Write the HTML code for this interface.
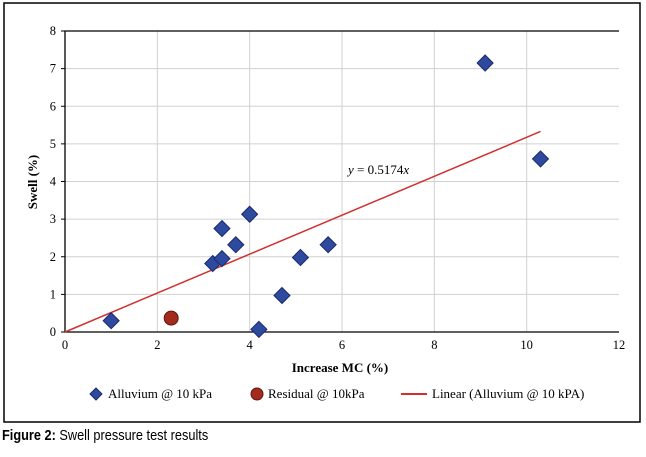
<!DOCTYPE html>
<html><head><meta charset="utf-8"><style>
body{margin:0;background:#fff;width:646px;height:457px;overflow:hidden;font-family:"Liberation Serif",serif}
.cap{position:absolute;left:2px;top:427px;font-family:"Liberation Sans",sans-serif;font-size:15px;transform:scaleX(0.85);transform-origin:left}
</style></head><body>
<svg width="646" height="457" style="position:absolute;left:0;top:0">
<rect x="4" y="3" width="636" height="419" fill="none" stroke="#000" stroke-width="1.5"/>
<g id="grid"></g><g id="axes"></g><g id="marks"></g>
<text x="340" y="372" font-size="13" font-weight="bold" text-anchor="middle">Increase MC (%)</text>
<text transform="translate(37,182) rotate(-90)" font-size="13" font-weight="bold" text-anchor="middle">Swell (%)</text>
<text x="348" y="174" font-size="13"><tspan font-style="italic">y</tspan> = 0.5174<tspan font-style="italic">x</tspan></text>
<g font-size="13">
<path d="M96 388 L102 394 L96 400 L90 394Z" fill="#2e4a9e" stroke="#1a2a6e"/>
<text x="108" y="398">Alluvium @ 10 kPa</text>
<circle cx="257" cy="394" r="6" fill="#a52a1e" stroke="#5a1a10"/>
<text x="268" y="398">Residual @ 10kPa</text>
<line x1="401" y1="394" x2="427" y2="394" stroke="#d03030" stroke-width="2"/>
<text x="432" y="398">Linear (Alluvium @ 10 kPA)</text>
</g>
</svg>
<div class="cap"><b>Figure 2:</b> Swell pressure test results</div>
<script>
const alluviumX=[1,3.2,3.4,3.4,3.7,4,4.2,4.7,5.1,5.7,9.1,10.3];
const alluviumY=[0.3,1.82,1.95,2.75,2.32,3.13,0.07,0.97,1.98,2.32,7.15,4.6];
const residualX=[2.3];
const residualY=[0.37];
const slope=0.5174;
const trendRange=[0,10.3];
const xTicks=[0,2,4,6,8,10,12];
const yTicks=[0,1,2,3,4,5,6,7,8];
const L=65,R=619,T=31,B=332;
const sx=v=>L+(R-L)*v/12, sy=v=>B-(B-T)*v/8;
const NS='http://www.w3.org/2000/svg';
function mk(p,tag,a){const e=document.createElementNS(NS,tag);for(const k in a)e.setAttribute(k,a[k]);document.getElementById(p).appendChild(e);return e;}
xTicks.forEach(t=>{if(t>0&&t<12){const g=mk('grid','line',{x1:sx(t),x2:sx(t),y1:T,y2:B,stroke:'#d0d0d0'});}
const tx=mk('axes','text',{x:sx(t),y:B+17,'font-size':12.5,'text-anchor':'middle'});tx.textContent=t;});
yTicks.forEach(t=>{if(t>0&&t<8){const g=mk('grid','line',{x1:L,x2:R,y1:sy(t),y2:sy(t),stroke:'#d0d0d0'});}
mk('axes','line',{x1:L-4,x2:L,y1:sy(t),y2:sy(t),stroke:'#000'});
const tx=mk('axes','text',{x:L-9,y:sy(t)+4,'font-size':12.5,'text-anchor':'end'});tx.textContent=t;});
const ax=mk('axes','path',{d:`M${R} ${T} L${L} ${T} L${L} ${B} L${R} ${B}`,fill:'none',stroke:'#000','stroke-width':1.3});

const ln=mk('marks','line',{x1:sx(trendRange[0]),y1:sy(slope*trendRange[0]),x2:sx(trendRange[1]),y2:sy(slope*trendRange[1]),stroke:'#d03030','stroke-width':1.5});

alluviumX.forEach((x,i)=>{const cx=sx(x),cy=sy(alluviumY[i]);
const p=mk('marks','path',{d:`M${cx} ${cy-8} L${cx+8} ${cy} L${cx} ${cy+8} L${cx-8} ${cy}Z`,fill:'#2e4a9e',stroke:'#1a2a6e'});
});
residualX.forEach((x,i)=>{const c=mk('marks','circle',{cx:sx(x),cy:sy(residualY[i]),r:7,fill:'#a52a1e',stroke:'#5a1a10'});
});
</script>
</body></html>
